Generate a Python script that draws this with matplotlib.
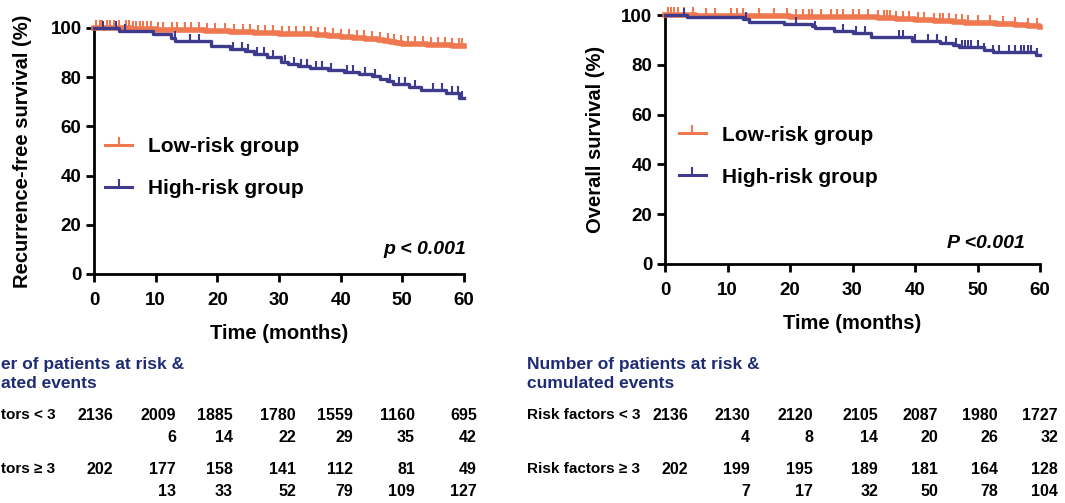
import numpy as np
import matplotlib
matplotlib.use('Agg')
import matplotlib.pyplot as plt
from matplotlib.lines import Line2D

plt.rcParams['font.family'] = ['Liberation Sans', 'DejaVu Sans']
plt.rcParams['font.weight'] = 'bold'

# Kaplan-Meier step data (months, % surviving)
rfs_low_t = [0, 3, 6, 10, 14, 18, 22, 26, 30, 33, 36, 38, 40, 42, 44, 46, 47, 48, 49, 50, 52, 54, 56, 58, 60]
rfs_low_s = [100, 99.8, 99.6, 99.3, 99.0, 98.8, 98.5, 98.1, 97.7, 97.4, 97.1, 96.7, 96.4, 96.0, 95.7, 95.3,
             94.9, 94.4, 94.0, 93.6, 93.3, 93.1, 92.9, 92.7, 92.6]
rfs_high_t = [0, 4, 9.5, 12.5, 13.2, 19, 22, 24.5, 26, 28, 30.3, 31.5, 33, 35, 38, 40.5, 43, 45, 46.3,
              47.5, 48.5, 51, 53, 57, 59.2, 60]
rfs_high_s = [100, 98.8, 97.4, 95.9, 94.7, 92.8, 91.6, 90.6, 89.4, 88.3, 86.2, 85.2, 84.4, 83.6, 82.8,
              82.0, 81.2, 80.3, 79.3, 78.3, 77.2, 76.1, 74.7, 73.5, 71.6, 71.6]
os_low_t = [0, 5, 12, 20, 28, 34, 37, 40, 43, 46, 48, 50, 53, 56, 58, 60]
os_low_s = [100, 99.7, 99.4, 99.2, 99.0, 98.8, 98.4, 98.1, 97.7, 97.3, 96.9, 96.6, 96.2, 95.8, 95.5, 95.3]
os_high_t = [0, 3.5, 12.5, 13.5, 19, 23.5, 24, 27, 30, 33, 37.5, 39.5, 44, 46, 47, 51, 52.5, 59.3, 60]
os_high_s = [100, 99.1, 98.4, 97.3, 96.4, 95.6, 94.7, 93.7, 92.6, 91.3, 91.0, 89.7, 88.9, 88.0, 87.3,
             86.0, 85.3, 84.0, 84.0]

# censoring times (tick marks)
rfs_low_cens = [0.4, 0.9, 1.3, 2.1, 2.6, 3.2, 4.1, 5.2, 5.7, 6.3, 6.8, 7.4, 7.9, 8.6, 9.3, 10.4, 11.2,
                12.6, 13.5, 14.7, 15.8, 17.1, 18.4, 19.6, 21.2, 22.7, 24.1, 25.3, 26.6, 27.8, 29.1,
                30.5, 31.6, 32.8, 34.0, 35.2, 36.3, 37.5, 38.8, 40.1, 41.3, 42.6, 43.8, 45.1, 46.4,
                47.6, 48.7, 49.8, 50.9, 52.1, 53.4, 54.6, 55.8, 56.9, 58.1, 59.2, 59.7]
rfs_high_cens = [1.5, 3.5, 5.0, 13.1, 15.5, 17.0, 22.5, 24.0, 25.0, 26.5, 27.5, 29.0, 31.0, 32.5, 33.5,
                 34.5, 36.0, 37.0, 38.5, 41.0, 42.0, 44.0, 45.5, 48.0, 49.5, 50.5, 52.0, 55.0, 56.5,
                 58.0, 59.0, 59.6]
os_low_cens = [0.5, 1.0, 1.5, 2.0, 3.0, 4.5, 6.5, 8.0, 10.5, 11.5, 12.5, 15.0, 17.5, 19.5, 21.0, 22.0,
               23.0, 23.5, 25.0, 26.5, 27.5, 28.5, 30.0, 31.0, 32.5, 34.0, 35.0, 35.5, 36.0, 37.0,
               38.0, 39.0, 40.5, 41.5, 43.0, 44.0, 44.5, 45.5, 46.5, 47.5, 48.5, 50.0, 52.0, 54.0,
               56.0, 58.0, 59.5]
os_high_cens = [3.0, 13.0, 21.0, 24.0, 28.5, 30.5, 32.0, 37.5, 38.0, 40.0, 42.0, 43.5, 45.0, 46.5, 47.5,
                48.0, 48.5, 49.0, 50.0, 51.0, 52.5, 53.5, 55.0, 56.0, 57.0, 57.5, 58.0, 58.5, 59.5]

# number at risk / cumulated events tables
rfs_low_risk = [2136, 2009, 1885, 1780, 1559, 1160, 695]
rfs_low_events = [6, 14, 22, 29, 35, 42]
rfs_high_risk = [202, 177, 158, 141, 112, 81, 49]
rfs_high_events = [13, 33, 52, 79, 109, 127]
os_low_risk = [2136, 2130, 2120, 2105, 2087, 1980, 1727]
os_low_events = [4, 8, 14, 20, 26, 32]
os_high_risk = [202, 199, 195, 189, 181, 164, 128]
os_high_events = [7, 17, 32, 50, 78, 104]

group_labels = ['Low-risk group', 'High-risk group']
# the left table is cropped at the picture's edge, only the tail of its labels shows
rfs_row_labels = ['tors < 3', 'tors \u2265 3']
rfs_table_title = 'er of patients at risk &\nated events'
os_row_labels = ['Risk factors < 3', 'Risk factors \u2265 3']
os_table_title = 'Number of patients at risk &\ncumulated events'

ORANGE = '#ef7850'
NAVY = '#3e3b8c'
TITLE_BLUE = '#1e2c74'

W, H = 1065, 503
fig = plt.figure(figsize=(W / 100, H / 100), dpi=100)


def px_axes(x0, x1, ytop, ybot):
    return fig.add_axes([x0 / W, 1 - ybot / H, (x1 - x0) / W, (ybot - ytop) / H])


def km(ax, t, s, cens, color, lw, ms):
    t = np.asarray(t)
    s = np.asarray(s)
    ax.step(t, s, where='post', color=color, lw=lw, clip_on=False, zorder=3)
    c = np.asarray(cens)
    cy = s[np.searchsorted(t, c, side='right') - 1]
    ax.plot(c, cy, ls='none', marker=2, ms=ms, mew=1.5, color=color, clip_on=False, zorder=3)


def style(ax, ylabel):
    ax.set_xlim(0, 60)
    ax.set_ylim(0, 100)
    ax.set_xticks(range(0, 61, 10))
    ax.set_yticks(range(0, 101, 20))
    for side in ['top', 'right']:
        ax.spines[side].set_visible(False)
    for side in ['left', 'bottom']:
        ax.spines[side].set_linewidth(2)
    ax.tick_params(direction='out', length=6, width=2, labelsize=13.5)
    ax.tick_params(axis='x', pad=7)
    ax.tick_params(axis='y', pad=3)
    for lab in ax.get_xticklabels() + ax.get_yticklabels():
        lab.set_fontweight('bold')
    ax.set_xlabel('Time (months)', fontsize=14.5, fontweight='bold')
    ax.set_ylabel(ylabel, fontsize=14.5, fontweight='bold')


def legend(ax, x, y):
    handles = [Line2D([0], [0], color=ORANGE, lw=2.2, marker=2, ms=6, mew=1.5),
               Line2D([0], [0], color=NAVY, lw=2.2, marker=2, ms=6, mew=1.5)]
    ax.legend(handles, group_labels, loc='center left', bbox_to_anchor=(x, y), frameon=False,
              numpoints=1, handlelength=1.3, handletextpad=0.75, labelspacing=1.1,
              borderpad=0, borderaxespad=0, prop={'size': 15, 'weight': 'bold'})


# left panel: recurrence-free survival
ax1 = px_axes(94, 464, 28, 274)
km(ax1, rfs_low_t, rfs_low_s, rfs_low_cens, ORANGE, 4, 6)
km(ax1, rfs_high_t, rfs_high_s, rfs_high_cens, NAVY, 2.4, 5)
style(ax1, 'Recurrence-free survival (%)')
ax1.xaxis.set_label_coords(0.5, -0.205)
ax1.yaxis.set_label_coords(-0.168, 0.5)
legend(ax1, 0.03, 0.433)
ax1.text(1.005, 0.098, 'p < 0.001', transform=ax1.transAxes, ha='right', va='center',
         fontsize=14, fontweight='bold', fontstyle='italic')

# right panel: overall survival
ax2 = px_axes(665, 1040, 15, 264)
km(ax2, os_low_t, os_low_s, os_low_cens, ORANGE, 4, 6)
km(ax2, os_high_t, os_high_s, os_high_cens, NAVY, 2.4, 5)
style(ax2, 'Overall survival (%)')
ax2.xaxis.set_label_coords(0.5, -0.2)
ax2.yaxis.set_label_coords(-0.16, 0.5)
legend(ax2, 0.037, 0.433)
ax2.text(0.96, 0.084, 'P <0.001', transform=ax2.transAxes, ha='right', va='center',
         fontsize=14, fontweight='bold', fontstyle='italic')


def table(x_label, col_right, title, labels, risk_rows, event_rows):
    fig.text(x_label / W, 1 - 357 / H, title, ha='left', va='top', color=TITLE_BLUE,
             fontsize=12.5, fontweight='bold', linespacing=1.3)
    row_y = [415, 469]
    for ry, lab, risk, ev in zip(row_y, labels, risk_rows, event_rows):
        fig.text(x_label / W, 1 - ry / H, lab, ha='left', va='center', fontsize=11, fontweight='bold')
        for xr, n in zip(col_right, risk):
            fig.text(xr / W, 1 - ry / H, str(n), ha='right', va='center', fontsize=11.5, fontweight='bold')
        for xr, n in zip(col_right[1:], ev):
            fig.text(xr / W, 1 - (ry + 23) / H, str(n), ha='right', va='center', fontsize=11.5,
                     fontweight='bold')


table(1, [113, 176, 233, 296, 353, 415, 477], rfs_table_title, rfs_row_labels,
      [rfs_low_risk, rfs_high_risk], [rfs_low_events, rfs_high_events])
table(527, [688, 750, 813, 878, 938, 998, 1058], os_table_title, os_row_labels,
      [os_low_risk, os_high_risk], [os_low_events, os_high_events])

fig.savefig('out.png', dpi=100)
